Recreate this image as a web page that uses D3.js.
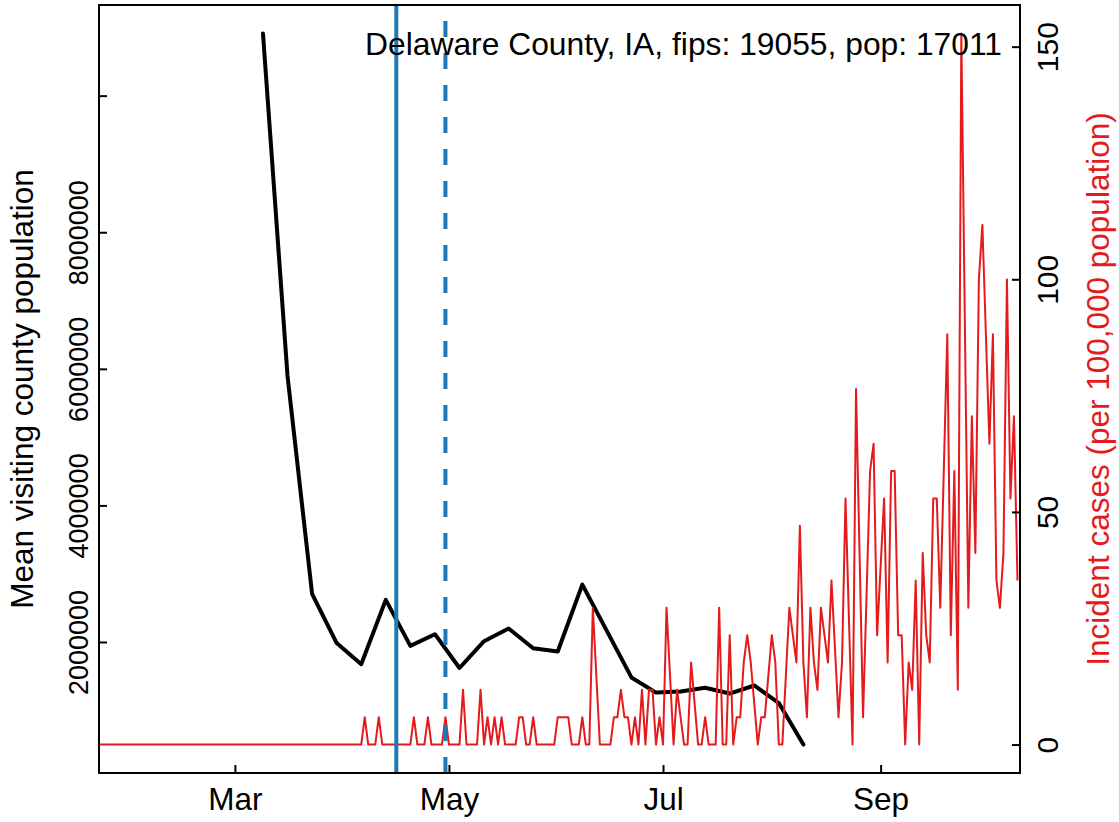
<!DOCTYPE html>
<html lang="en">
<head>
<meta charset="utf-8">
<title>Delaware County, IA</title>
<script src="https://cdn.jsdelivr.net/npm/d3@7"></script>
<style>
  body { margin: 0; background: #fff; }
  text { font-family: "Liberation Sans", Arial, Helvetica, sans-serif; }
</style>
</head>
<body>
<svg width="1119" height="822"></svg>
<script>
// ---- data ----
const xLimits = ["2020-02-01", "2020-10-01"];

// weekly mean visiting county population (black line)
const mobilityDates = ["2020-03-09","2020-03-16","2020-03-23","2020-03-30","2020-04-06","2020-04-13",
  "2020-04-20","2020-04-27","2020-05-04","2020-05-11","2020-05-18","2020-05-25","2020-06-01","2020-06-08",
  "2020-06-22","2020-06-29","2020-07-06","2020-07-13","2020-07-20","2020-07-27","2020-08-03","2020-08-10"];
const mobilityValues = [10911000, 5896000, 2705000, 1984000, 1675000, 2617000,
  1943000, 2114000, 1619000, 2012000, 2198000, 1909000, 1861000, 2840000,
  1481000, 1259000, 1276000, 1330000, 1245000, 1363000, 1106000, 498000];

// daily incident cases per 100,000, one entry per day from caseStart (null = no report that day)
const caseStart = "2020-01-22";
const caseRate = [
  // Jan 22 - 31
  0,0,0,0,0,0,0,0,0,0,
  // Feb
  0,0,0,0,0,0,0,0,0,0, 0,0,0,0,0,0,0,0,0,0, 0,0,0,0,0,0,0,0,0,
  // Mar
  0,0,0,0,0,0,0,0,0,0, 0,0,0,0,0,0,0,0,0,0, 0,0,0,0,0,0,0,0,0,0, 0,
  // Apr
  0,0,0,0,0,0,5.88,0,0,0, 5.88,0,0,0,0,0,0,0,0,0, 5.88,0,0,0,5.88,0,0,0,0,5.88,
  // May
  0,0,0,0,11.76,0,0,0,0,11.76, 0,5.88,0,5.88,0,5.88,0,0,0,0, 5.88,5.88,0,0,5.88,0,0,0,0,0, 0,
  // Jun
  5.88,5.88,5.88,5.88,0,0,0,5.88,0,0, 29.39,null,0,0,0,0,5.88,5.88,11.76,5.88,
  5.88,0,5.88,0,11.76,0,11.76,11.76,0,5.88,
  // Jul
  0,29.39,null,0,11.76,5.88,0,0,17.64,null, 0,0,5.88,0,0,0,29.39,0,0,23.51,
  0,5.88,5.88,17.64,23.51,17.64,null,0,5.88,5.88, null,
  // Aug
  23.51,17.64,0,0,null,29.39,null,17.64,47.03,17.64, 5.88,29.39,17.64,11.76,29.39,23.51,17.64,35.27,null,5.88,
  17.64,52.91,null,0,76.42,null,5.88,null,58.79,64.66, 23.51,
  // Sep
  null,52.91,17.64,58.79,58.79,23.51,23.51,0,17.64,11.76, 35.27,0,41.15,23.51,17.64,52.91,52.91,29.39,null,88.18,
  23.51,58.79,11.76,152.84,null,29.39,70.54,41.15,99.94,111.69,
  // Oct 1 - 10
  null,64.66,88.18,35.27,29.39,41.15,99.94,52.91,70.54,35.27
];

// stay-at-home order / reopening dates (solid, dashed)
const interventionDates = ["2020-04-16", "2020-04-30"];
const interventionDash = [null, "16,16"];

const monthTicks = ["2020-03-01", "2020-05-01", "2020-07-01", "2020-09-01"];
const monthLabels = ["Mar", "May", "Jul", "Sep"];
const leftTicks = [2000000, 4000000, 6000000, 8000000, 10000000];
const leftTickLabels = ["2000000", "4000000", "6000000", "8000000", ""];
const rightTicks = [0, 50, 100, 150];

const titleText = "Delaware County, IA, fips: 19055, pop: 17011";
const leftTitle = "Mean visiting county population";
const rightTitle = "Incident cases (per 100,000 population)";

// ---- layout ----
const svg = d3.select("svg");
const box = { left: 99, right: 1020, top: 5, bottom: 773 };
const blue = "#1f77b4";
const red = "#e41a1c";
const parse = d3.utcParse("%Y-%m-%d");

// R style 4% padding on each side
function padded(lo, hi) {
  const p = (hi - lo) * 0.04;
  return [lo - p, hi + p];
}

const xl = xLimits.map(parse);
const xPad = (xl[1] - xl[0]) * 0.04;
const x = d3.scaleUtc()
  .domain([new Date(+xl[0] - xPad), new Date(+xl[1] + xPad)])
  .range([box.left, box.right]);

const yLeft = d3.scaleLinear()
  .domain(padded(d3.min(mobilityValues), d3.max(mobilityValues)))
  .range([box.bottom, box.top]);

const caseStartDate = parse(caseStart);
const cases = caseRate
  .map((v, i) => ({ date: d3.utcDay.offset(caseStartDate, i), v: v }))
  .filter(d => d.v !== null);

const yRight = d3.scaleLinear()
  .domain(padded(0, d3.max(cases, d => d.v)))
  .range([box.bottom, box.top]);

svg.append("rect").attr("width", 1119).attr("height", 822).attr("fill", "#fff");

svg.append("clipPath").attr("id", "plotclip")
  .append("rect")
  .attr("x", box.left).attr("y", box.top)
  .attr("width", box.right - box.left).attr("height", box.bottom - box.top);

const plot = svg.append("g").attr("clip-path", "url(#plotclip)");

// county title inside the plot
svg.append("text")
  .attr("x", 1002).attr("y", 55)
  .attr("text-anchor", "end")
  .attr("font-size", 31.8)
  .attr("fill", "#000")
  .text(titleText);

// black mobility line
const mobility = mobilityDates.map((d, i) => ({ date: parse(d), v: mobilityValues[i] }));
plot.append("path")
  .datum(mobility)
  .attr("fill", "none")
  .attr("stroke", "#000")
  .attr("stroke-width", 4)
  .attr("stroke-linejoin", "round")
  .attr("stroke-linecap", "round")
  .attr("d", d3.line().x(d => x(d.date)).y(d => yLeft(d.v)));

// red incident cases line
plot.append("path")
  .datum(cases)
  .attr("fill", "none")
  .attr("stroke", red)
  .attr("stroke-width", 2)
  .attr("stroke-linejoin", "round")
  .attr("d", d3.line().x(d => x(d.date)).y(d => yRight(d.v)));

// vertical intervention lines
interventionDates.forEach((d, i) => {
  const xv = x(parse(d));
  plot.append("line")
    .attr("x1", xv).attr("x2", xv)
    .attr("y1", box.bottom).attr("y2", box.top)
    .attr("stroke", blue)
    .attr("stroke-width", 4)
    .attr("stroke-dasharray", interventionDash[i]);
});

// frame
svg.append("rect")
  .attr("x", box.left).attr("y", box.top)
  .attr("width", box.right - box.left).attr("height", box.bottom - box.top)
  .attr("fill", "none").attr("stroke", "#000").attr("stroke-width", 2);

// bottom axis
const gx = svg.append("g")
  .attr("transform", `translate(0,${box.bottom})`)
  .call(d3.axisBottom(x)
    .tickValues(monthTicks.map(parse))
    .tickFormat((d, i) => monthLabels[i])
    .tickSize(-8));
gx.select(".domain").remove();
gx.selectAll(".tick line").attr("stroke-width", 2);
gx.selectAll(".tick text")
  .attr("y", 37).attr("dy", null)
  .attr("font-size", 31.5).attr("font-family", null).attr("fill", "#000");

// left axis
const gl = svg.append("g")
  .attr("transform", `translate(${box.left},0)`)
  .call(d3.axisLeft(yLeft)
    .tickValues(leftTicks)
    .tickFormat((d, i) => leftTickLabels[i])
    .tickSize(-8));
gl.select(".domain").remove();
gl.selectAll(".tick line").attr("stroke-width", 2);
gl.selectAll(".tick text")
  .attr("x", null).attr("dy", null)
  .attr("text-anchor", "middle")
  .attr("transform", "translate(-11.5,0) rotate(-90)")
  .attr("font-size", 27).attr("font-family", null).attr("fill", "#000");

// right axis
const gr = svg.append("g")
  .attr("transform", `translate(${box.right},0)`)
  .call(d3.axisRight(yRight)
    .tickValues(rightTicks)
    .tickFormat(d3.format("d"))
    .tickSize(-8));
gr.select(".domain").remove();
gr.selectAll(".tick line").attr("stroke-width", 2);
gr.selectAll(".tick text")
  .attr("x", null).attr("dy", null)
  .attr("text-anchor", "middle")
  .attr("transform", "translate(38.3,0) rotate(-90)")
  .attr("font-size", 30).attr("font-family", null).attr("fill", "#000");

// axis titles
const midY = (box.top + box.bottom) / 2;
svg.append("text")
  .attr("transform", `translate(33.3,${midY}) rotate(-90)`)
  .attr("text-anchor", "middle")
  .attr("font-size", 31.5)
  .attr("fill", "#000")
  .text(leftTitle);

svg.append("text")
  .attr("transform", `translate(1109.3,${midY}) rotate(-90)`)
  .attr("text-anchor", "middle")
  .attr("font-size", 31.5)
  .attr("fill", red)
  .text(rightTitle);
</script>
</body>
</html>
